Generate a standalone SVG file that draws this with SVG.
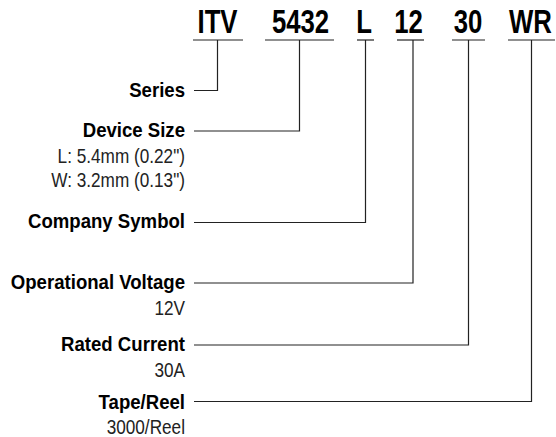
<svg xmlns="http://www.w3.org/2000/svg" width="556" height="437" viewBox="0 0 556 437">
<style>
.code{font-family:"Liberation Sans",Arial,sans-serif;font-weight:bold;font-size:33px;fill:#000;text-anchor:middle}
.lbl{font-family:"Liberation Sans",Arial,sans-serif;font-weight:bold;font-size:20px;fill:#000;text-anchor:end}
.sub{font-family:"Liberation Sans",Arial,sans-serif;font-size:20px;fill:#222;text-anchor:end}
.ln{fill:none;stroke:#222;stroke-width:1.2}
</style>
<rect width="556" height="437" fill="#fff"/>
<g id="codes">
<g id="code-itv"><text class="code" transform="translate(217.5,33) scale(0.78,1)">ITV</text><line class="ln" x1="193" y1="40" x2="243" y2="40"/></g>
<g id="code-5432"><text class="code" transform="translate(300.5,33) scale(0.78,1)">5432</text><line class="ln" x1="265" y1="40" x2="334" y2="40"/></g>
<g id="code-l"><text class="code" transform="translate(364,33) scale(0.78,1)">L</text><line class="ln" x1="357" y1="40" x2="374" y2="40"/></g>
<g id="code-12"><text class="code" transform="translate(408.5,33) scale(0.78,1)">12</text><line class="ln" x1="397" y1="40" x2="424" y2="40"/></g>
<g id="code-30"><text class="code" transform="translate(468,33) scale(0.78,1)">30</text><line class="ln" x1="452" y1="40" x2="485" y2="40"/></g>
<g id="code-wr"><text class="code" transform="translate(530.5,33) scale(0.78,1)">WR</text><line class="ln" x1="508" y1="40" x2="555" y2="40"/></g>
</g>
<g id="series"><text class="lbl" transform="translate(185,96.5) scale(0.93,1)">Series</text></g>
<g id="device-size"><text class="lbl" transform="translate(185,136.5) scale(0.93,1)">Device Size</text><text class="sub" transform="translate(185,163) scale(0.86,1)">L: 5.4mm (0.22")</text><text class="sub" transform="translate(185,186.5) scale(0.86,1)">W: 3.2mm (0.13")</text></g>
<g id="company-symbol"><text class="lbl" transform="translate(185,228) scale(0.93,1)">Company Symbol</text></g>
<g id="operational-voltage"><text class="lbl" transform="translate(185,288.5) scale(0.93,1)">Operational Voltage</text><text class="sub" transform="translate(185,314.5) scale(0.86,1)">12V</text></g>
<g id="rated-current"><text class="lbl" transform="translate(185,351) scale(0.93,1)">Rated Current</text><text class="sub" transform="translate(185,377) scale(0.86,1)">30A</text></g>
<g id="tape-reel"><text class="lbl" transform="translate(185,408.5) scale(0.93,1)">Tape/Reel</text><text class="sub" transform="translate(185,433.5) scale(0.86,1)">3000/Reel</text></g>
<g id="connectors">
<polyline class="ln" points="217.5,40 217.5,90.5 194,90.5"/>
<polyline class="ln" points="299.5,40 299.5,131 194,131"/>
<polyline class="ln" points="365.5,40 365.5,222.5 194,222.5"/>
<polyline class="ln" points="413,40 413,283 194,283"/>
<polyline class="ln" points="468.5,40 468.5,345 194,345"/>
<polyline class="ln" points="531.5,40 531.5,401.5 194,401.5"/>
</g>
</svg>
